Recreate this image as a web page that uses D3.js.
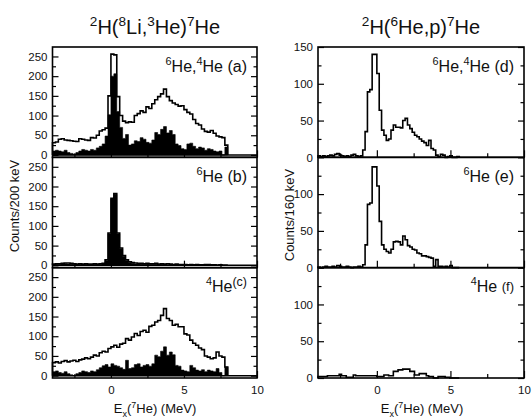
<!DOCTYPE html>
<html>
<head>
<meta charset="utf-8">
<script src="https://cdn.jsdelivr.net/npm/d3@7"></script>
<style>
  body { margin: 0; background: #fff; }
  text { font-family: "Liberation Sans", Arial, Helvetica, sans-serif; fill: #111; }
</style>
</head>
<body>
<svg id="chart" width="532" height="418"></svg>
<script>
// ---- Spectra: counts per bin, bins start at -4 MeV ----
// 2H(8Li,3He)7He, 200 keV bins
const binWidthLeft = 0.2;
const binStartLeft = -4.0;
// (a) 6He + 4He, all events (open) and gated events (filled)
const aOpen = [
  31, 33, 40, 41, 38, 37, 36, 35, 34, 41,
  40, 38, 37, 44, 43, 50, 61, 64, 68, 150,
  256, 254, 148, 100, 86, 82, 84, 83, 100, 105,
  112, 108, 122, 118, 130, 140, 148, 155, 167, 148,
  138, 132, 128, 124, 125, 115, 108, 104, 90, 80,
  76, 66, 60, 58, 62, 55, 48, 46, 44, 25
];
const aFill = [
  10, 12, 10, 8, 12, 6, 4, 2, 6, 10,
  14, 12, 10, 14, 12, 18, 22, 28, 48, 102,
  200, 206, 110, 70, 42, 52, 25, 28, 36, 34,
  44, 40, 32, 30, 38, 57, 52, 65, 72, 56,
  62, 52, 28, 24, 16, 14, 28, 30, 22, 16,
  20, 18, 12, 16, 14, 10, 8, 10, 0, 20
];
// (b) 6He
const bOpen = [
  3, 4, 4, 5, 6, 6, 5, 4, 3, 4,
  3, 4, 3, 3, 4, 3, 4, 5, 14, 82,
  170, 182, 82, 44, 25, 14, 9, 7, 6, 5,
  5, 4, 5, 4, 4, 5, 3, 4, 3, 4,
  3, 2, 3, 2, 2, 2, 1, 2, 1, 2,
  1, 1, 2, 2, 1, 1, 0, 1, 0, 0
];
const bFill = [
  1, 2, 2, 3, 4, 3, 2, 2, 1, 2,
  1, 2, 1, 1, 2, 1, 2, 3, 12, 80,
  168, 180, 80, 42, 23, 12, 7, 5, 3, 3,
  2, 2, 2, 2, 2, 2, 1, 2, 1, 1,
  1, 0, 1, 0, 1, 0, 0, 1, 0, 0,
  0, 0, 1, 0, 0, 0, 0, 0, 0, 0
];
// (c) 4He
const cOpen = [
  33, 35, 32, 36, 38, 35, 37, 39, 36, 40,
  42, 45, 43, 47, 52, 50, 58, 62, 60, 69,
  73, 77, 72, 80, 82, 94, 90, 98, 107, 102,
  112, 115, 110, 125, 128, 136, 140, 153, 170, 145,
  140, 128, 130, 124, 124, 106, 103, 90, 82, 77,
  70, 66, 50, 47, 43, 45, 60, 50, 47, 22
];
const cFill = [
  10, 12, 8, 6, 10, 5, 2, 0, 5, 8,
  12, 10, 8, 12, 10, 15, 20, 25, 28, 22,
  30, 26, 24, 20, 16, 39, 18, 20, 28, 30,
  22, 26, 28, 24, 30, 52, 48, 62, 73, 52,
  60, 53, 26, 24, 14, 12, 10, 26, 20, 14,
  12, 15, 10, 14, 12, 10, 18, 8, 0, 22
];

// 2H(6He,p)7He, 160 keV bins
const binWidthRight = 0.16;
const binStartRight = -4.0;
const dOpen = [
  2, 1, 2, 1, 2, 3, 2, 4, 5, 3,
  2, 1, 2, 1, 3, 4, 2, 1, 2, 10,
  35, 89, 92, 140, 140, 114, 64, 37, 30, 23,
  25, 37, 44, 41, 41, 40, 50, 53, 44, 39,
  34, 30, 28, 25, 22, 20, 16, 23, 12, 10,
  3, 1, 4, 3, 0, 1, 2, 0, 0, 1
];
const eOpen = [
  1, 0, 1, 2, 1, 1, 2, 1, 3, 2,
  1, 1, 2, 1, 0, 1, 1, 2, 1, 4,
  31, 86, 88, 137, 137, 111, 63, 31, 25, 22,
  20, 25, 35, 36, 35, 31, 43, 38, 30, 28,
  25, 24, 20, 19, 16, 16, 15, 14, 13, 2,
  11, 2, 2, 1, 2, 1, 3, 0, 0, 0
];
const fOpen = [
  2, 2, 2, 2, 3, 3, 3, 3, 3, 5,
  3, 3, 1, 1, 1, 4, 3, 3, 3, 3,
  3, 3, 3, 3, 3, 2, 2, 2, 4, 4,
  3, 3, 9, 9, 11, 11, 12, 12, 12, 9,
  9, 4, 4, 6, 6, 6, 3, 2, 2, 0,
  0, 2, 2, 2, 1, 1, 0, 0, 0, 0
];

// ---- Axis settings ----
const xDomain = [-4, 10];
const xMajorTicks = [0, 5, 10];
const xMinorTicks = [-2.5, 2.5, 7.5];
const leftYDomain = [-6, 274];
const leftYMajor = [0, 50, 100, 150, 200, 250];
const leftYMinor = [25, 75, 125, 175, 225];
const rightYDomain = [0, 150];
const rightYMajorTop = [0, 50, 100, 150];
const rightYMajor = [0, 50, 100];
const rightYMinor = [25, 75, 125];

const svg = d3.select("#chart");

const columns = {
  left:  { x0: 52.5, x1: 257, top: 47, bottom: 378 },
  right: { x0: 318,  x1: 524, top: 47, bottom: 378 }
};

// text with superscripts/subscripts: parts = [text, scale, rise(em)]
function richText(g, x, y, parts, size, anchor) {
  const t = g.append("text")
    .attr("x", x).attr("y", y)
    .attr("font-size", size)
    .attr("text-anchor", anchor || "start");
  let shift = 0;
  parts.forEach(([s, scale, rise]) => {
    const target = -(rise || 0) * size;
    t.append("tspan")
      .attr("dy", target - shift)
      .attr("font-size", size * (scale || 1))
      .text(s);
    shift = target;
  });
  return t;
}

// step outline / filled step area of a binned spectrum
function stepPoints(values, start, width) {
  const pts = [[start, 0]];
  values.forEach((v, i) => {
    pts.push([start + i * width, v]);
    pts.push([start + (i + 1) * width, v]);
  });
  pts.push([start + values.length * width, 0]);
  return pts;
}

function drawPanel(col, index, opts) {
  const h = (col.bottom - col.top) / 3;
  const top = col.top + index * h;
  const bottom = top + h;
  const x = d3.scaleLinear().domain(xDomain).range([col.x0, col.x1]);
  const y = d3.scaleLinear().domain(opts.yDomain).range([bottom, top]);
  const g = svg.append("g");

  // filled spectrum
  if (opts.fill) {
    const area = d3.area()
      .x(d => x(d[0])).y0(y(0)).y1(d => y(d[1]));
    g.append("path")
      .attr("d", area(stepPoints(opts.fill, opts.start, opts.width)))
      .attr("fill", "#000").attr("stroke", "#000").attr("stroke-width", 0.6);
  }
  // zero line
  if (opts.zeroLine) {
    g.append("line")
      .attr("x1", x(xDomain[0])).attr("x2", x(xDomain[1]))
      .attr("y1", y(0)).attr("y2", y(0))
      .attr("stroke", "#000").attr("stroke-width", 1.5);
  }
  // open spectrum
  const line = d3.line().x(d => x(d[0])).y(d => y(d[1]));
  g.append("path")
    .attr("d", line(stepPoints(opts.open, opts.start, opts.width)))
    .attr("fill", "none").attr("stroke", "#000")
    .attr("stroke-width", 1.6).attr("stroke-linejoin", "miter");

  // axes: inward ticks on all sides except top
  const styleAxis = sel => {
    sel.select(".domain").remove();
    sel.selectAll(".tick line").attr("stroke", "#000").attr("stroke-width", 1.2);
    sel.selectAll(".tick text").attr("font-size", 11.5)
      .attr("font-family", "'Liberation Sans', Arial, sans-serif").attr("fill", "#222");
  };
  g.append("g").attr("transform", `translate(${col.x0},0)`)
    .call(d3.axisLeft(y).tickValues(opts.yMajor).tickSize(-6).tickPadding(5)
      .tickFormat(d => opts.yLabels.includes(d) ? d : ""))
    .call(styleAxis);
  g.append("g").attr("transform", `translate(${col.x0},0)`)
    .call(d3.axisLeft(y).tickValues(opts.yMinor).tickSize(-3.5).tickFormat(""))
    .call(styleAxis);
  g.append("g").attr("transform", `translate(${col.x1},0)`)
    .call(d3.axisRight(y).tickValues(opts.yMajor).tickSize(-6).tickFormat(""))
    .call(styleAxis);
  g.append("g").attr("transform", `translate(${col.x1},0)`)
    .call(d3.axisRight(y).tickValues(opts.yMinor).tickSize(-3.5).tickFormat(""))
    .call(styleAxis);
  g.append("g").attr("transform", `translate(0,${bottom})`)
    .call(d3.axisBottom(x).tickValues(xMajorTicks).tickSize(-7).tickPadding(8)
      .tickFormat(d => opts.showX ? d : ""))
    .call(styleAxis);
  g.append("g").attr("transform", `translate(0,${bottom})`)
    .call(d3.axisBottom(x).tickValues(xMinorTicks).tickSize(-4).tickFormat(""))
    .call(styleAxis);

  // frame
  g.append("rect")
    .attr("x", col.x0).attr("y", top)
    .attr("width", col.x1 - col.x0).attr("height", h)
    .attr("fill", "none").attr("stroke", "#000").attr("stroke-width", 1.6);

  // panel label
  richText(g, col.x1 - 10, top + 24.5, opts.label, 16, "end");
}

const sup = s => [s, 0.68, 0.42];
const n = s => [s, 1, 0];

// left column
drawPanel(columns.left, 0, {
  open: aOpen, fill: aFill, start: binStartLeft, width: binWidthLeft,
  yDomain: leftYDomain, yMajor: leftYMajor, yMinor: leftYMinor, yLabels: leftYMajor,
  zeroLine: true, showX: false,
  label: [sup("6"), n("He,"), sup("4"), n("He  (a)")]
});
drawPanel(columns.left, 1, {
  open: bOpen, fill: bFill, start: binStartLeft, width: binWidthLeft,
  yDomain: leftYDomain, yMajor: leftYMajor, yMinor: leftYMinor, yLabels: leftYMajor,
  zeroLine: true, showX: false,
  label: [sup("6"), n("He  (b)")]
});
drawPanel(columns.left, 2, {
  open: cOpen, fill: cFill, start: binStartLeft, width: binWidthLeft,
  yDomain: leftYDomain, yMajor: leftYMajor, yMinor: leftYMinor, yLabels: leftYMajor,
  zeroLine: true, showX: true,
  label: [sup("4"), n("He"), ["(c)", 0.78, 0.38]]
});

// right column
drawPanel(columns.right, 0, {
  open: dOpen, start: binStartRight, width: binWidthRight,
  yDomain: rightYDomain, yMajor: rightYMajorTop, yMinor: rightYMinor, yLabels: rightYMajorTop,
  zeroLine: false, showX: false,
  label: [sup("6"), n("He,"), sup("4"), n("He  (d)")]
});
drawPanel(columns.right, 1, {
  open: eOpen, start: binStartRight, width: binWidthRight,
  yDomain: rightYDomain, yMajor: rightYMajor, yMinor: rightYMinor, yLabels: rightYMajor,
  zeroLine: false, showX: false,
  label: [sup("6"), n("He (e)")]
});
drawPanel(columns.right, 2, {
  open: fOpen, start: binStartRight, width: binWidthRight,
  yDomain: rightYDomain, yMajor: rightYMajor, yMinor: rightYMinor, yLabels: rightYMajor,
  zeroLine: false, showX: true,
  label: [sup("4"), n("He "), ["(f)", 0.82, 0.1]]
});

// titles
const titles = svg.append("g");
richText(titles, 155, 34, [sup("2"), n("H("), sup("8"), n("Li,"), sup("3"), n("He)"), sup("7"), n("He")], 20, "middle");
richText(titles, 421, 34, [sup("2"), n("H("), sup("6"), n("He,p)"), sup("7"), n("He")], 20, "middle");

// axis titles
const xTitle = [n("E"), ["x", 0.7, -0.28], ["(", 1, 0], sup("7"), n("He) (MeV)")];
richText(titles, 155, 413, xTitle, 13, "middle");
richText(titles, 422, 413, xTitle, 13, "middle");

titles.append("text")
  .attr("transform", "translate(19,206) rotate(-90)")
  .attr("text-anchor", "middle").attr("font-size", 13)
  .text("Counts/200 keV");
titles.append("text")
  .attr("transform", "translate(294,215) rotate(-90)")
  .attr("text-anchor", "middle").attr("font-size", 13)
  .text("Counts/160 keV");
</script>
</body>
</html>
